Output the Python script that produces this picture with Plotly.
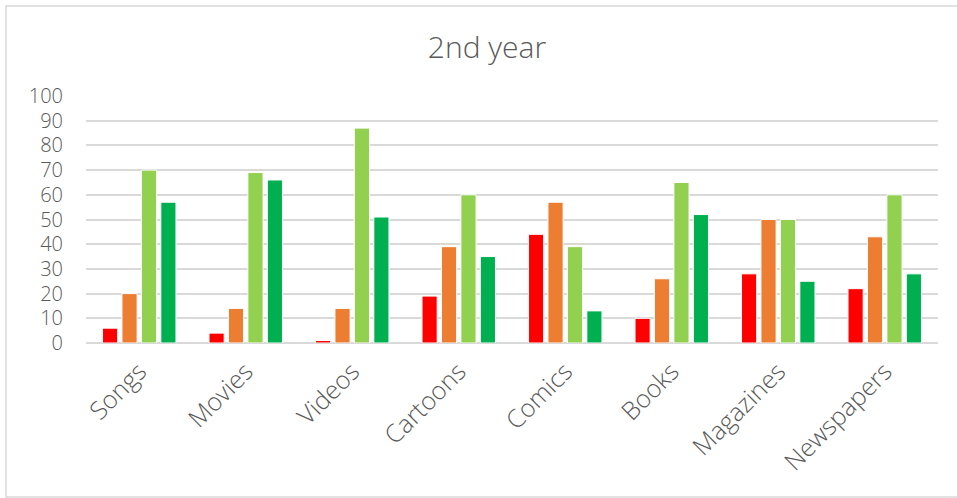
import plotly.graph_objects as go

categories = ["Songs", "Movies", "Videos", "Cartoons", "Comics", "Books", "Magazines", "Newspapers"]
series_a = [6, 4, 1, 19, 44, 10, 28, 22]
series_b = [20, 14, 14, 39, 57, 26, 50, 43]
series_c = [70, 69, 87, 60, 39, 65, 50, 60]
series_d = [57, 66, 51, 35, 13, 52, 25, 28]
colors = ["#FF0000", "#ED7D31", "#92D050", "#00B050"]
y_ticks = list(range(0, 101, 10))

W, H = 957, 498
ML, MR, MT, MB = 86, 19, 96, 155
pw, ph = W - ML - MR, H - MT - MB

fig = go.Figure()
for vals, col in zip([series_a, series_b, series_c, series_d], colors):
    fig.add_trace(go.Bar(x=categories, y=vals, marker=dict(color=col, line=dict(color="white", width=1))))

font = "Open Sans, DejaVu Sans, sans-serif"
grey = "#595959"

# outer chart frame (right edge runs off the page)
def px_x(v):
    return (v - ML) / pw

def px_y(v):
    return (H - MB - v) / ph

fig.add_shape(type="rect", xref="paper", yref="paper",
              x0=px_x(6), x1=px_x(965), y0=px_y(497), y1=px_y(6),
              line=dict(color="#D9D9D9", width=1.5), fillcolor="rgba(0,0,0,0)", layer="below")

fig.update_layout(
    width=W, height=H,
    margin=dict(l=ML, r=MR, t=MT, b=MB),
    paper_bgcolor="white", plot_bgcolor="white",
    showlegend=False,
    barmode="group", bargap=0.27, bargroupgap=0.22,
    title=dict(text="2nd year", x=487 / W, xanchor="center", y=1 - 47 / H, yanchor="middle",
               font=dict(family=font, size=30, color=grey, weight=300)),
    font=dict(family=font, color=grey, weight=300),
    xaxis=dict(tickangle=-45, tickfont=dict(size=25, color=grey, weight=300), showgrid=False,
               showline=False, ticks="", ticklabelstandoff=8),
    yaxis=dict(range=[0, 100], tickvals=y_ticks, tickfont=dict(size=20, color=grey, weight=300),
               showgrid=True, gridcolor="#D9D9D9", gridwidth=2, zeroline=True,
               zerolinecolor="#D9D9D9", zerolinewidth=2, showline=False, ticks="",
               ticklabelstandoff=22),
)

fig.write_html("out.html")
